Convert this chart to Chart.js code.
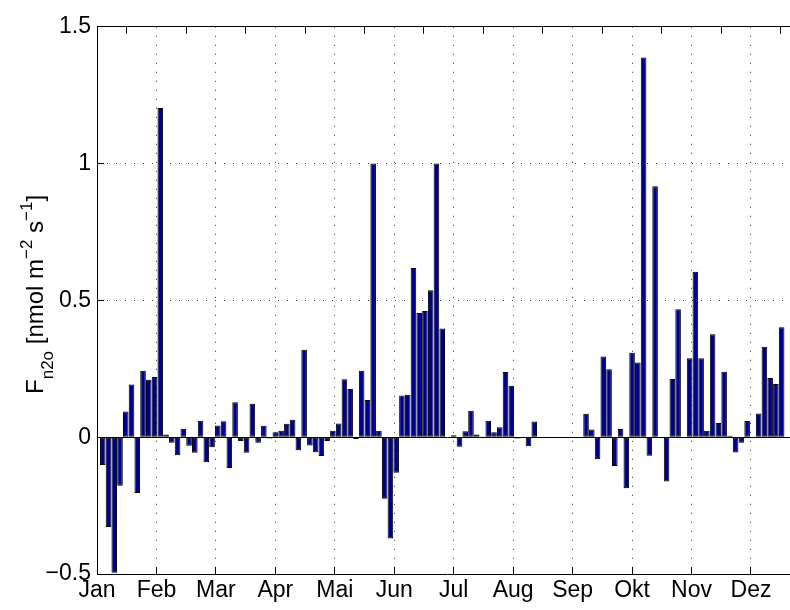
<!DOCTYPE html>
<html>
<head>
<meta charset="utf-8">
<title>N2O flux</title>
<script src="https://cdn.jsdelivr.net/npm/chart.js@4.4.0/dist/chart.umd.min.js"></script>
<style>
  html, body { margin: 0; padding: 0; background: #fff; overflow: hidden; }
  canvas { display: block; }
</style>
</head>
<body>
<canvas id="fluxChart" width="800" height="610"></canvas>
<script>
// month labels on the time axis, one tick every 31 days
const months = ['Jan', 'Feb', 'Mar', 'Apr', 'Mai', 'Jun', 'Jul', 'Aug', 'Sep', 'Okt', 'Nov', 'Dez'];
const monthStep = 31;
// one flux value every 3 days
const sampleStep = 3;
const flux = [
  -0.102, -0.328, -0.495, -0.177, 0.094, 0.193, -0.204, 0.243, 0.21, 0.22,
  1.203, 0.01, -0.02, -0.066, 0.031, -0.031, -0.057, 0.06, -0.092, -0.037,
  0.043, 0.058, -0.113, 0.128, -0.014, -0.057, 0.122, -0.02, 0.042, -0.005,
  0.018, 0.024, 0.049, 0.064, -0.048, 0.32, -0.03, -0.055, -0.069, -0.014,
  0.024, 0.05, 0.212, 0.176, -0.007, 0.243, 0.136, 1.0, 0.024, -0.225,
  -0.37, -0.13, 0.152, 0.155, 0.618, 0.454, 0.461, 0.537, 1.0, 0.397,
  0.002, 0.007, -0.035, 0.022, 0.097, 0.01, 0.003, 0.06, 0.018, 0.036,
  0.238, 0.188, -0.005, 0, -0.033, 0.057, 0, 0, 0, 0,
  0, 0, 0, 0, 0.086, 0.028, -0.081, 0.295, 0.248, -0.105,
  0.03, -0.187, 0.309, 0.273, 1.388, -0.068, 0.917, 0.002, -0.162, 0.213,
  0.468, 0.002, 0.289, 0.605, 0.289, 0.024, 0.376, 0.052, 0.239, 0.005,
  -0.056, -0.02, 0.059, 0, 0.087, 0.331, 0.216, 0.194, 0.402
];
const yTicks = [-0.5, 0, 0.5, 1, 1.5];

const monthTicks = months.map((m, i) => i * monthStep);
const points = flux.map((v, i) => ({ x: (i + 1) * sampleStep, y: v }));

Chart.defaults.font.family = "'Liberation Sans', Arial, sans-serif";
Chart.defaults.font.size = 23;
Chart.defaults.color = '#000';

const isZero = (c) => c.tick && c.tick.value === 0;

// y label with sub- and superscripts, drawn rotated left of the axis
const yTitle = {
  id: 'yTitle',
  afterDraw(chart) {
    const { ctx, chartArea } = chart;
    const fam = Chart.defaults.font.family;
    const runs = [
      { t: 'F', s: 24, dy: 0 },
      { t: 'n2o', s: 17, dy: 10 },
      { t: ' [nmol m', s: 24, dy: 0 },
      { t: '\u22122', s: 17, dy: -11 },
      { t: ' s', s: 24, dy: 0 },
      { t: '\u22121', s: 17, dy: -11 },
      { t: ']', s: 24, dy: 0 }
    ];
    ctx.save();
    let total = 0;
    runs.forEach(r => {
      ctx.font = r.s + 'px ' + fam;
      r.w = ctx.measureText(r.t).width;
      total += r.w;
    });
    ctx.translate(43, (chartArea.top + chartArea.bottom) / 2 - 6);
    ctx.rotate(-Math.PI / 2);
    ctx.fillStyle = '#000';
    ctx.textBaseline = 'alphabetic';
    let x = -total / 2;
    runs.forEach(r => {
      ctx.font = r.s + 'px ' + fam;
      ctx.fillText(r.t, x, r.dy);
      x += r.w;
    });
    ctx.restore();
  }
};

new Chart(document.getElementById('fluxChart'), {
  type: 'bar',
  data: {
    datasets: [{
      data: points,
      backgroundColor: '#00008f',
      borderColor: '#000',
      borderWidth: 1,
      borderSkipped: false,
      categoryPercentage: 1,
      barPercentage: 0.97
    }]
  },
  options: {
    responsive: false,
    animation: false,
    layout: { padding: { left: 0, right: 3, top: 0, bottom: 0 } },
    plugins: {
      legend: { display: false },
      tooltip: { enabled: false }
    },
    scales: {
      x: {
        type: 'linear',
        position: 'bottom',
        min: 0,
        max: 365,
        offset: false,
        afterBuildTicks: (s) => { s.ticks = monthTicks.map(v => ({ value: v })); },
        afterFit: (s) => { s.height = 36; },
        ticks: {
          autoSkip: false,
          maxRotation: 0,
          padding: 10,
          callback: (v, i) => months[i]
        },
        grid: {
          offset: false,
          color: '#333',
          lineWidth: 1,
          tickLength: -7,
          tickColor: '#000',
          tickWidth: 1
        },
        border: { display: true, color: '#000', width: 1, dash: [1, 8] }
      },
      xTop: {
        type: 'linear',
        position: 'top',
        min: 0,
        max: 365,
        offset: false,
        afterBuildTicks: (s) => { s.ticks = monthTicks.map(v => ({ value: v })); },
        afterFit: (s) => { s.height = 21; },
        ticks: { display: false },
        grid: {
          drawOnChartArea: false,
          tickLength: -7,
          tickColor: '#000',
          tickWidth: 1
        },
        border: { display: true, color: '#000', width: 1 }
      },
      y: {
        type: 'linear',
        min: -0.5,
        max: 1.5,
        afterBuildTicks: (s) => { s.ticks = yTicks.map(v => ({ value: v })); },
        afterFit: (s) => { s.width = 97; },
        ticks: {
          padding: 13,
          callback: (v) => v < 0 ? '\u2212' + Math.abs(v) : String(v)
        },
        grid: {
          color: (c) => isZero(c) ? '#000' : '#333',
          lineWidth: 1,
          tickLength: -7,
          tickColor: '#000',
          tickWidth: 1
        },
        border: {
          display: true,
          color: '#000',
          width: 1,
          dash: (c) => isZero(c) ? [] : [1, 8]
        }
      }
    }
  },
  plugins: [yTitle]
});
</script>
</body>
</html>
